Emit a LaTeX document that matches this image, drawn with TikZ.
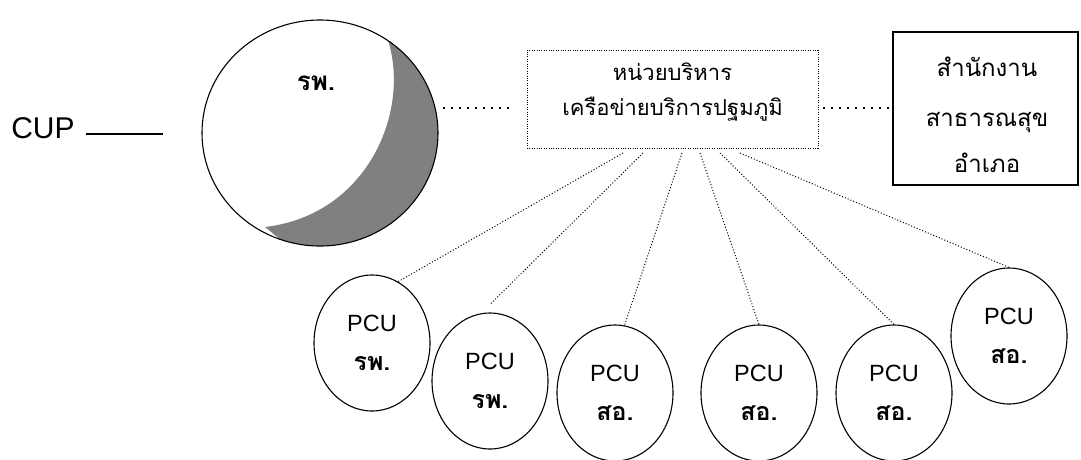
\documentclass[tikz,border=0pt]{standalone}
\usepackage{fontspec}
\setmainfont{Liberation Sans}
\newfontfamily\thaifont[Script=Thai]{Loma}
\usetikzlibrary{shapes.geometric}
\tikzset{
  pcu/.style={draw, ellipse, line width=1.1pt, minimum width=116pt, minimum height=136pt, inner sep=0pt, align=center, font=\fontsize{23.5}{39}\selectfont},
  conn/.style={line width=1pt, dash pattern=on 1pt off 2pt},
  bigdot/.style={line width=2.2pt, dash pattern=on 2.2pt off 5.8pt},
  thaitxt/.style={font=\thaifont\fontsize{22}{22}\selectfont, inner sep=0pt}
}
\newcommand{\pcutext}[1]{PCU\\{\thaifont\bfseries\fontsize{25}{39}\selectfont #1}}
\begin{document}
\begin{tikzpicture}[x=1pt,y=-1pt]
\useasboundingbox (0,0) rectangle (1081,459);
% CUP label
\node[font=\fontsize{30}{30}\selectfont, anchor=center] (cup) at (43,128) {CUP};
\coordinate (cupa) at (86,134);
\coordinate (cupb) at (163,134);
\draw[line width=1.2pt] (cupa) -- (cupb);
% big circle with crescent
\begin{scope}
\clip (320,133) ellipse [x radius=118, y radius=113];
\fill[black!50] (387,37) .. controls (412,110) and (368,215) .. (265,227) -- (330,280) -- (460,260) -- (460,0) -- (400,0) -- cycle;
\end{scope}
\node[draw, ellipse, line width=1.1pt, minimum width=236pt, minimum height=226pt, inner sep=0pt] (rph) at (320,133) {};
\node[font=\thaifont\bfseries\fontsize{26}{26}\selectfont] (rphlabel) at (316,83) {รพ.};
% central dotted box
\node[draw, dash pattern=on 0.8pt off 1.6pt, line width=0.8pt, minimum width=291pt, minimum height=98pt] (net) at (672.5,99) {};
\node[thaitxt, anchor=base] (net1) at (672.5,80) {หน่วยบริหาร};
\node[thaitxt, anchor=base] (net2) at (672.5,115) {เครือข่ายบริการปฐมภูมิ};
% right box
\node[draw, line width=1.3pt, minimum width=185pt, minimum height=153pt] (ssj) at (985.5,108.5) {};
\node[thaitxt, font=\thaifont\fontsize{24}{24}\selectfont, anchor=base] (ssj1) at (987,76) {สำนักงาน};
\node[thaitxt, font=\thaifont\fontsize{24}{24}\selectfont, anchor=base] (ssj2) at (987,126) {สาธารณสุข};
\node[thaitxt, font=\thaifont\fontsize{24}{24}\selectfont, anchor=base] (ssj3) at (987,172) {อำเภอ};
% horizontal dotted links
\coordinate (la) at (443,108);
\coordinate (lb) at (514,108);
\coordinate (ra) at (823,108);
\draw[bigdot] (la) -- (lb);
\draw[bigdot] (ra) -- (ssj.west |- ra);
% PCU ellipses
\node[pcu] (p1) at (372,343) {\pcutext{รพ.}};
\node[pcu] (p2) at (490,381) {\pcutext{รพ.}};
\node[pcu] (p3) at (615,393) {\pcutext{สอ.}};
\node[pcu] (p4) at (759,393) {\pcutext{สอ.}};
\node[pcu] (p5) at (894,393) {\pcutext{สอ.}};
\node[pcu] (p6) at (1009,336) {\pcutext{สอ.}};
% connector start points below the box
\coordinate (s1) at (623,153);
\coordinate (s2) at (643,153);
\coordinate (s3) at (682,153);
\coordinate (s4) at (700,153);
\coordinate (s5) at (720,153);
\coordinate (s6) at (740,153);
\draw[conn] (s1) -- (p1.67);
\draw[conn] (s2) -- ([yshift=8pt]p2.north);
\draw[conn] (s3) -- (p3.82);
\draw[conn] (s4) -- (p4.north);
\draw[conn] (s5) -- (p5.north);
\draw[conn] (s6) -- (p6.north);
\end{tikzpicture}
\end{document}
